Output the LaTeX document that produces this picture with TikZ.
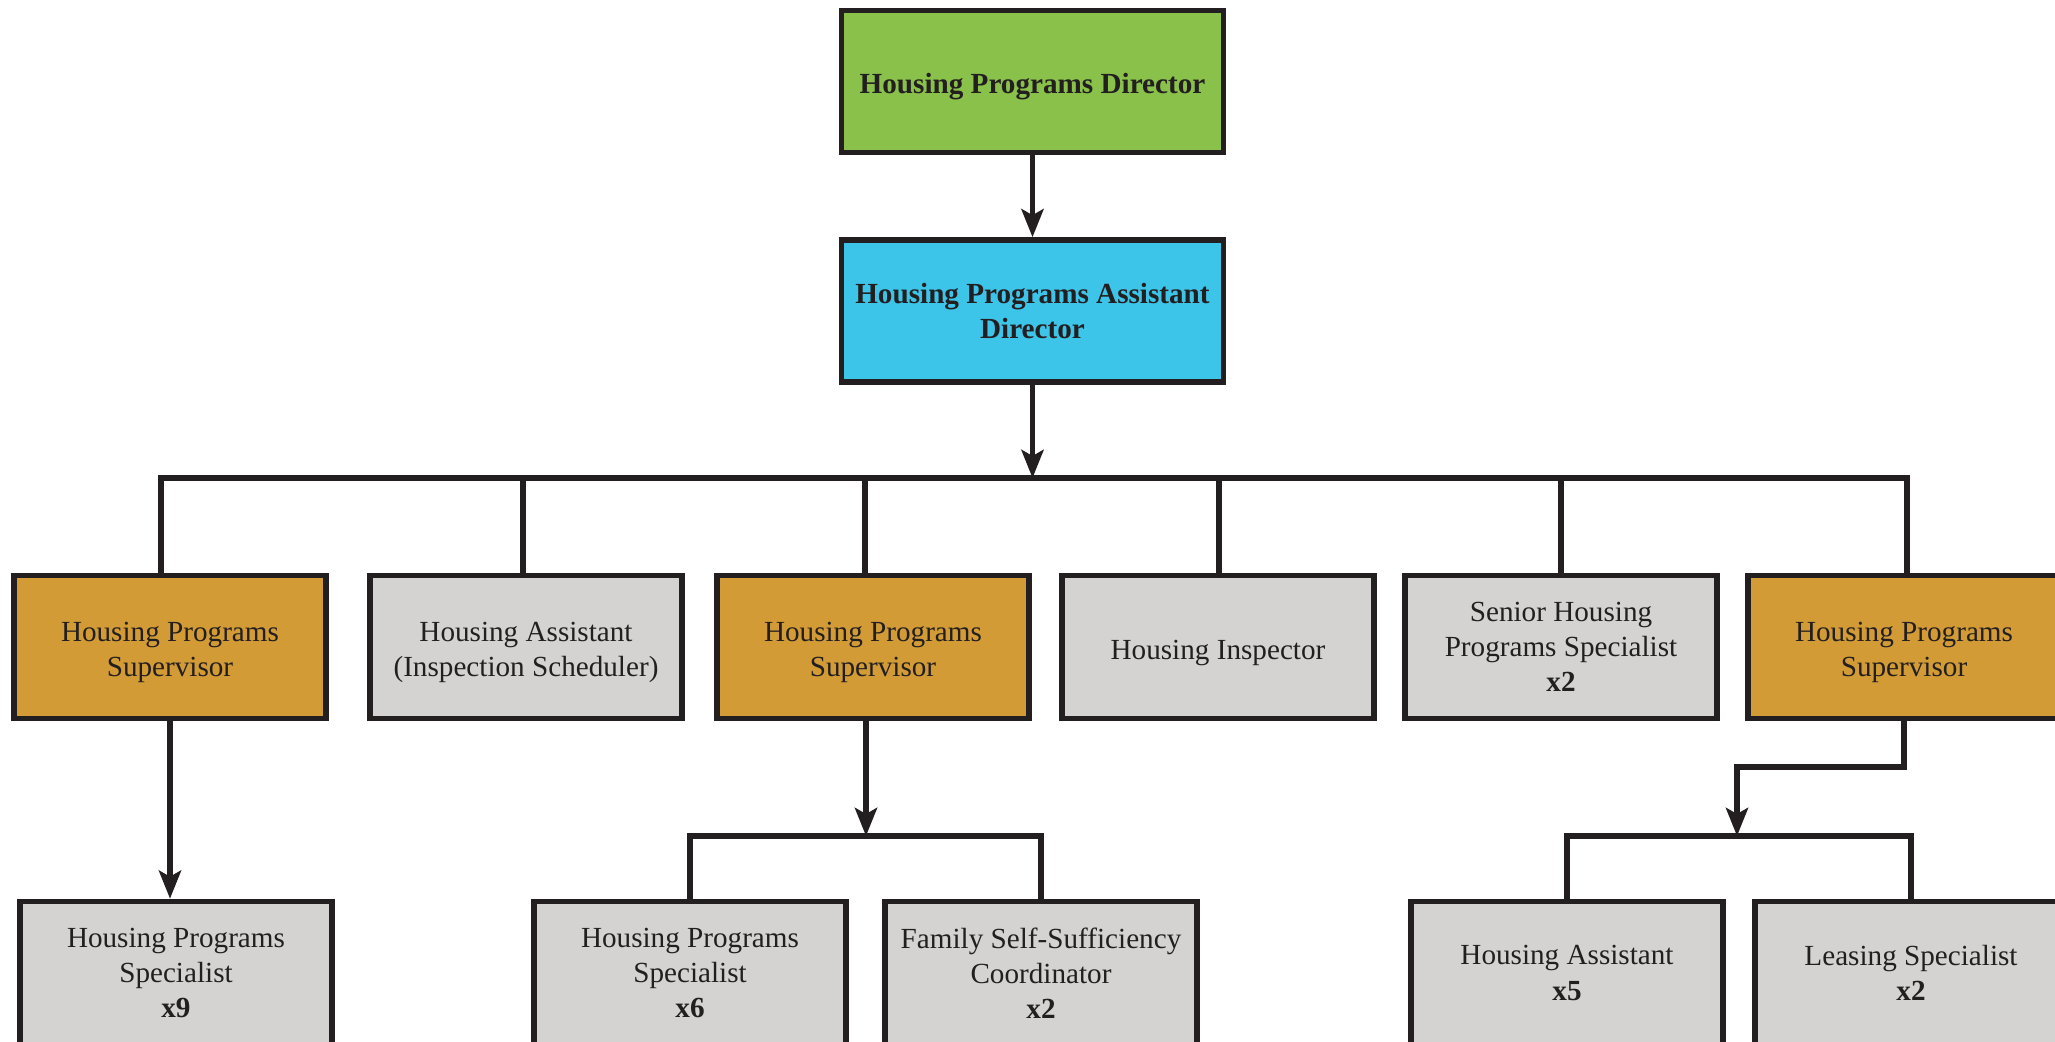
\documentclass[tikz,border=0pt]{standalone}
\usepackage{fontspec}
\setmainfont{Liberation Serif}
\usetikzlibrary{arrows.meta,positioning}
\definecolor{dirgreen}{RGB}{137,193,74}
\definecolor{adircyan}{RGB}{61,197,233}
\definecolor{supgold}{RGB}{210,155,54}
\definecolor{staffgray}{RGB}{212,211,210}
\definecolor{inkdark}{RGB}{35,31,32}
\newcommand{\toppad}{\rule{0pt}{8.8pt}}

\begin{document}
\begin{tikzpicture}[>={Stealth[length=2.8mm,width=2.2mm,inset=0.6mm]},
  posbox/.style={draw=inkdark,line width=1.6pt,minimum width=3.12cm,minimum height=1.43cm,align=center,inner sep=2pt,text=inkdark,font=\fontsize{8.3}{10}\selectfont},
  topbox/.style={posbox,minimum width=3.82cm,minimum height=1.42cm,font=\fontsize{8.3}{10}\selectfont\bfseries},
  conn/.style={draw=inkdark,line width=1.6pt}]
\useasboundingbox (0,0) rectangle (20.55,-10.42);
\clip (0,0) rectangle (20.55,-10.42);

% top of the chart
\node[topbox,fill=dirgreen] (dir) at (10.325,-0.815) {\toppad Housing Programs Director};
\node[topbox,fill=adircyan] (adir) at (10.325,-3.11) {Housing Programs Assistant\\Director};
\coordinate (bus) at (10.325,-4.78);

% first row
\node[posbox,fill=supgold] (sup1) at (1.70,-6.47) {\toppad Housing Programs\\Supervisor};
\node[posbox,fill=staffgray] (hasst) at (5.26,-6.47) {\toppad Housing Assistant\\(Inspection Scheduler)};
\node[posbox,fill=supgold] (sup2) at (8.73,-6.47) {\toppad Housing Programs\\Supervisor};
\node[posbox,fill=staffgray] (insp) at (12.18,-6.47) {\toppad Housing Inspector};
\node[posbox,fill=staffgray] (shps) at (15.61,-6.47) {Senior Housing\\Programs Specialist\\\textbf{x2}};
\node[posbox,fill=supgold] (sup3) at (19.04,-6.47) {\toppad Housing Programs\\Supervisor};

% second row
\node[posbox,fill=staffgray] (hps9) at (1.76,-9.73) {Housing Programs\\Specialist\\\textbf{x9}};
\node[posbox,fill=staffgray] (hps6) at (6.90,-9.73) {Housing Programs\\Specialist\\\textbf{x6}};
\node[posbox,fill=staffgray] (fss) at (10.41,-9.73) {Family Self-Sufficiency\\Coordinator\\\textbf{x2}};
\node[posbox,fill=staffgray] (ha5) at (15.67,-9.73) {Housing Assistant\\\textbf{x5}};
\node[posbox,fill=staffgray] (ls2) at (19.11,-9.73) {Leasing Specialist\\\textbf{x2}};
\coordinate (bus2) at (8.66,-8.36);
\coordinate (bend3) at (17.37,-7.67);
\coordinate (bus3) at (17.37,-8.36);

\draw[conn,->] (dir) -- (adir);
\draw[conn,->] (adir) -- (adir |- bus);
\draw[conn] ([xshift=-0.09cm]sup1.north) |- (bus) -| ([xshift=0.03cm]sup3.north);
\foreach \n/\dx in {hasst/-0.03cm,sup2/-0.08cm,insp/0.01cm,shps/0cm}
  \draw[conn] ([xshift=\dx]\n.north) -- ([xshift=\dx]\n.north |- bus);

\draw[conn,->] (sup1.south) -- (sup1.south |- hps9.north);
\draw[conn,->] ([xshift=-0.07cm]sup2.south) -- ([xshift=-0.07cm]sup2.south |- bus2);
\draw[conn] (hps6.north) |- (bus2) -| (fss.north);
\draw[conn,->] (sup3.south) |- (bend3) -- (bus3);
\draw[conn] (ha5.north) |- (bus3) -| (ls2.north);
\end{tikzpicture}
\end{document}
